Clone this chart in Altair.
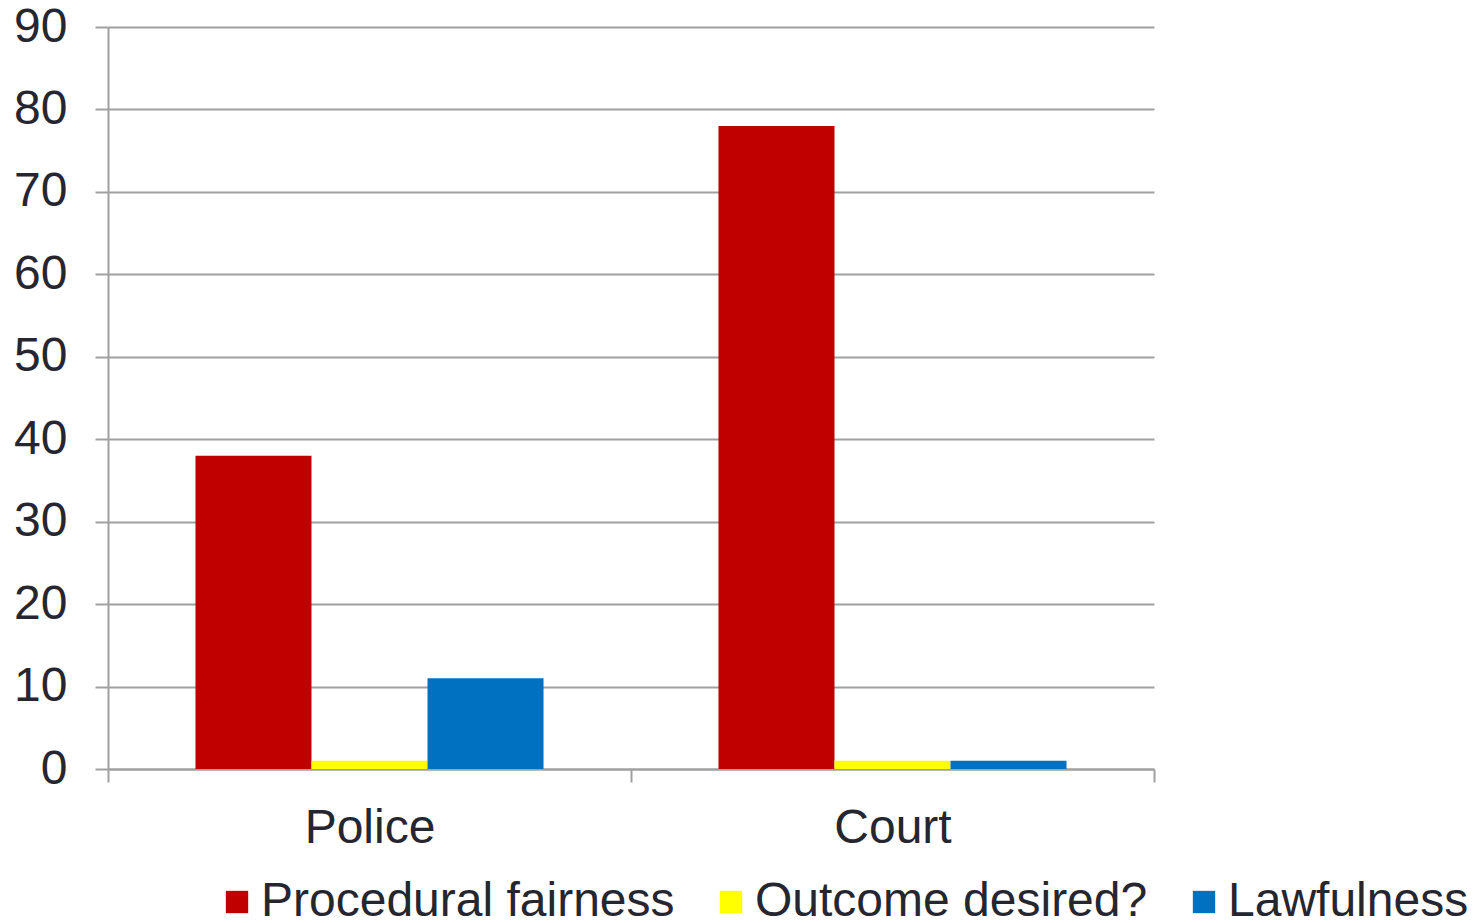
import altair as alt
import pandas as pd

# Share of respondents citing each factor, by institution
groups = ["Police", "Court"]
series = ["Procedural fairness", "Outcome desired?", "Lawfulness"]
procedural_fairness = [38, 78]
outcome_desired = [1, 1]
lawfulness = [11, 1]
colors = ["#C00000", "#FFFF00", "#0070C0"]

rows = []
for i, g in enumerate(groups):
    for s, vals in zip(series, [procedural_fairness, outcome_desired, lawfulness]):
        rows.append({"group": g, "series": s, "value": vals[i]})
df = pd.DataFrame(rows)

FONT = "Liberation Sans"
TEXT = "#262630"
GRID = "#A0A0A0"

chart = alt.Chart(df).mark_bar().encode(
    x=alt.X(
        "group:N",
        sort=groups,
        scale=alt.Scale(paddingInner=0, paddingOuter=0),
        axis=alt.Axis(
            title=None,
            labelAngle=0,
            labelFontSize=48,
            labelPadding=22,
            tickBand="extent",
            tickSize=13,
            tickColor=GRID,
            tickWidth=2,
            domainColor=GRID,
            domainWidth=2,
            grid=False,
        ),
    ),
    xOffset=alt.XOffset(
        "series:N",
        sort=series,
        scale=alt.Scale(paddingInner=0, paddingOuter=0.754),
    ),
    y=alt.Y(
        "value:Q",
        scale=alt.Scale(domain=[0, 90], nice=False),
        axis=alt.Axis(
            title=None,
            values=list(range(0, 91, 10)),
            labelFontSize=48,
            labelPadding=28,
            tickSize=13,
            tickColor=GRID,
            tickWidth=2,
            domainColor=GRID,
            domainWidth=2,
            gridColor=GRID,
            gridWidth=2,
        ),
    ),
    color=alt.Color(
        "series:N",
        sort=series,
        scale=alt.Scale(domain=series, range=colors),
        legend=alt.Legend(
            title=None,
            orient="none",
            legendX=105,
            legendY=851,
            direction="horizontal",
            symbolType="square",
            symbolSize=500,
            symbolStrokeWidth=0,
            labelFontSize=48,
            labelOffset=0,
            columnPadding=32,
            labelLimit=600,
            padding=0,
        ),
    ),
).properties(
    width=1046,
    height=742,
    autosize=alt.AutoSizeParams(type="none"),
    padding={"left": 108, "top": 27, "right": 322, "bottom": 154},
).configure(
    font=FONT,
).configure_axis(
    labelColor=TEXT,
    labelFont=FONT,
).configure_legend(
    labelColor=TEXT,
    labelFont=FONT,
).configure_view(
    stroke=None,
)

chart.save("out.html", embed_options={"renderer": "svg", "actions": False})
